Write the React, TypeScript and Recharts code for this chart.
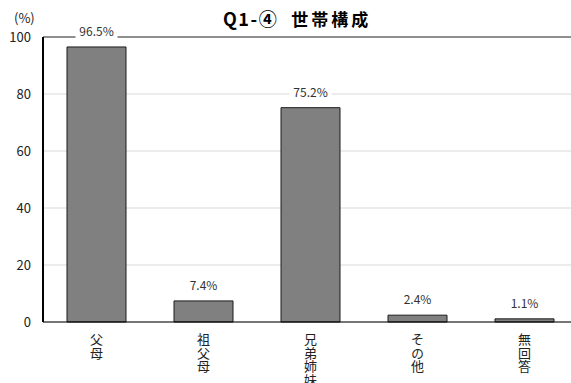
import React from "react";
import { BarChart, Bar, XAxis, YAxis, CartesianGrid, LabelList, ReferenceLine } from "recharts";

const categories = ["父母", "祖父母", "兄弟姉妹", "その他", "無回答"];
const values = [96.5, 7.4, 75.2, 2.4, 1.1];
const yTicks = [0, 20, 40, 60, 80, 100];
const titleCode = "Q1-④";
const titleText = "世帯構成";
const unitLabel = "(%)";

const data = categories.map((c, i) => ({ name: c, value: values[i] }));

const FONT = "'Noto Sans CJK JP', 'Noto Sans', sans-serif";

const XTick = (props: any) => {
  const { x, y, payload } = props;
  return (
    <text
      x={x}
      y={y + 9}
      fontFamily={FONT}
      fontSize={13}
      fill="#222"
      style={{ writingMode: "vertical-rl", letterSpacing: "0.5px" } as any}
    >
      {payload.value}
    </text>
  );
};

const BarLabel = (props: any) => {
  const { x, y, width, value } = props;
  const cx = x + width / 2;
  const text = `${Number(value).toFixed(1)}%`;
  const w = 42;
  return (
    <g>
      <rect x={cx - w / 2} y={y - 24} width={w} height={16} fill="#fff" />
      <text x={cx} y={y - 11} textAnchor="middle" fontFamily={FONT} fontSize={12} fill="#333">
        {text}
      </text>
    </g>
  );
};

export default function App() {
  return (
    <div style={{ position: "absolute", left: 0, top: 0, width: 571, height: 383, overflow: "hidden", background: "#fff" }}>
      <div
        style={{
          position: "absolute",
          left: 223,
          top: 6,
          fontFamily: FONT,
          fontWeight: "bold",
          fontSize: 17,
          lineHeight: "24px",
          color: "#000",
          whiteSpace: "pre",
        }}
      >
        <span style={{ fontSize: 18, letterSpacing: "1.5px" }}>{titleCode}</span>
        <span style={{ marginLeft: 13, letterSpacing: "3px" }}>{titleText}</span>
      </div>
      <div
        style={{
          position: "absolute",
          left: 14,
          top: 9,
          fontFamily: FONT,
          fontSize: 13,
          lineHeight: "18px",
          color: "#222",
        }}
      >
        {unitLabel}
      </div>
      <BarChart
        width={580}
        height={383}
        data={data}
        margin={{ top: 37, right: 2, bottom: 0, left: 0 }}
        barSize={59}
      >
        <CartesianGrid vertical={false} stroke="#d9d9d9" />
        <XAxis
          dataKey="name"
          tick={<XTick />}
          tickLine={false}
          tickSize={0}
          height={61}
          axisLine={{ stroke: "#000", strokeWidth: 1 }}
          interval={0}
        />
        <YAxis
          width={43}
          domain={[0, 100]}
          ticks={yTicks}
          tickLine={false}
          tickSize={0}
          tickMargin={12}
          axisLine={{ stroke: "#000", strokeWidth: 2 }}
          tick={{ fontFamily: FONT, fontSize: 13, fill: "#222" }}
        />
        <ReferenceLine y={100} stroke="#333" strokeWidth={1} ifOverflow="extendDomain" />
        <Bar dataKey="value" fill="#808080" stroke="#1a1a1a" strokeWidth={1} isAnimationActive={false}>
          <LabelList dataKey="value" content={<BarLabel />} />
        </Bar>
      </BarChart>
    </div>
  );
}
